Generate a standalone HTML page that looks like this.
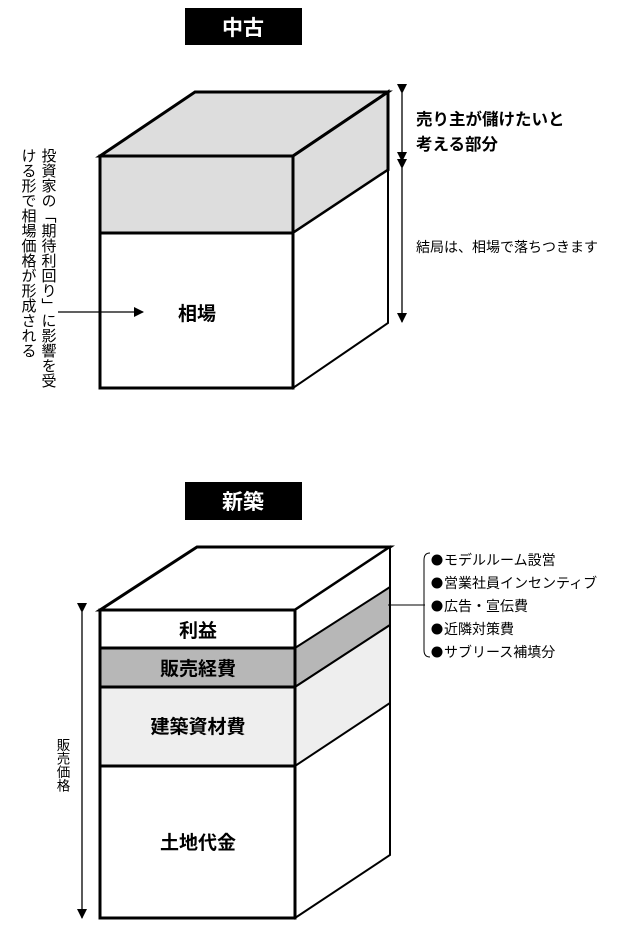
<!DOCTYPE html>
<html><head><meta charset="utf-8"><style>
html,body{margin:0;padding:0;background:#fff;}
svg{display:block;}
text{font-family:"Liberation Sans","Noto Sans CJK JP",sans-serif;fill:#000;}
.b{font-weight:bold;}
.v{writing-mode:vertical-rl;}
</style></head><body>
<svg width="640" height="932" viewBox="0 0 640 932" xmlns="http://www.w3.org/2000/svg">
<defs><marker id="ah" markerWidth="10" markerHeight="10" refX="9" refY="5" orient="auto" markerUnits="userSpaceOnUse"><path d="M0,0 L10,5 L0,10 Z" fill="#000"/></marker></defs>
<!-- titles -->
<rect x="185" y="8" width="117" height="37" fill="#000"/>
<text x="243" y="35" font-size="21" text-anchor="middle" class="b" style="fill:#fff">中古</text>
<rect x="185" y="482" width="117" height="38" fill="#000"/>
<text x="243" y="509" font-size="21" text-anchor="middle" class="b" style="fill:#fff">新築</text>

<!-- top box -->
<g stroke="#000" stroke-width="3" stroke-linejoin="miter">
<polygon points="100,156 195,92 388,92 293,156" fill="#ddd"/>
<polygon points="293,156 388,92 388,170 293,233" fill="#ddd"/>
<polygon points="293,233 388,170 388,323 293,388" fill="#fff" stroke-width="2"/>
<rect x="100" y="156" width="193" height="77" fill="#ddd"/>
<rect x="100" y="233" width="193" height="155" fill="#fff"/>
</g>
<text x="197" y="320" font-size="19" class="b" text-anchor="middle">相場</text>
<line x1="58" y1="312" x2="143" y2="312" stroke="#000" stroke-width="1.3" marker-end="url(#ah)"/>
<g font-size="15">
<text x="48" y="148" class="v" textLength="240" lengthAdjust="spacing">投資家の「期待利回り」に影響を受</text>
<text x="28" y="148" class="v">ける形で相場価格が形成される</text>
</g>
<line x1="402" y1="93" x2="402" y2="161" stroke="#000" stroke-width="1.3" marker-start="url(#ah)" marker-end="url(#ah)"/>
<line x1="402" y1="168" x2="402" y2="322" stroke="#000" stroke-width="1.3" marker-start="url(#ah)" marker-end="url(#ah)"/>
<text x="416" y="125" font-size="16.5" class="b">売り主が儲けたいと</text>
<text x="416" y="150" font-size="16.5" class="b">考える部分</text>
<text x="416" y="252" font-size="14">結局は、相場で落ちつきます</text>

<!-- bottom box -->
<g stroke="#000" stroke-width="3">
<polygon points="100,610 197,547 390,547 295,610" fill="#fff"/>
<polygon points="295,610 390,547 390,855 295,918" fill="#fff" stroke-width="2"/>
<polygon points="295,648 390,587 390,625 295,687" fill="#b7b7b7" stroke-width="2"/>
<polygon points="295,687 390,625 390,703 295,766" fill="#eee" stroke-width="2"/>
<rect x="100" y="610" width="195" height="38" fill="#fff"/>
<rect x="100" y="648" width="195" height="39" fill="#b7b7b7"/>
<rect x="100" y="687" width="195" height="79" fill="#eee"/>
<rect x="100" y="766" width="195" height="152" fill="#fff"/>
</g>
<g font-size="19" class="b" text-anchor="middle">
<text x="198" y="637">利益</text>
<text x="198" y="675">販売経費</text>
<text x="198" y="733">建築資材費</text>
<text x="198" y="849">土地代金</text>
</g>
<line x1="82" y1="612" x2="82" y2="918" stroke="#000" stroke-width="1.3" marker-start="url(#ah)" marker-end="url(#ah)"/>
<text x="62" y="738" font-size="13.5" class="v">販売価格</text>
<line x1="388" y1="605" x2="425" y2="605" stroke="#000" stroke-width="1"/>
<path d="M430,553 Q424,553 424,560 L424,650 Q424,657 430,657" fill="none" stroke="#000" stroke-width="1"/>
<g fill="#000">
<circle cx="437" cy="560" r="5.5"/>
<circle cx="437" cy="583" r="5.5"/>
<circle cx="437" cy="606" r="5.5"/>
<circle cx="437" cy="629" r="5.5"/>
<circle cx="437" cy="652" r="5.5"/>
</g>
<g font-size="14" style="font-family:'Noto Sans CJK JP',sans-serif">
<text x="444" y="565">モデルルーム設営</text>
<text x="444" y="588">営業社員インセンティブ</text>
<text x="444" y="611">広告・宣伝費</text>
<text x="444" y="634">近隣対策費</text>
<text x="444" y="657">サブリース補填分</text>
</g>
</svg>
</body></html>
